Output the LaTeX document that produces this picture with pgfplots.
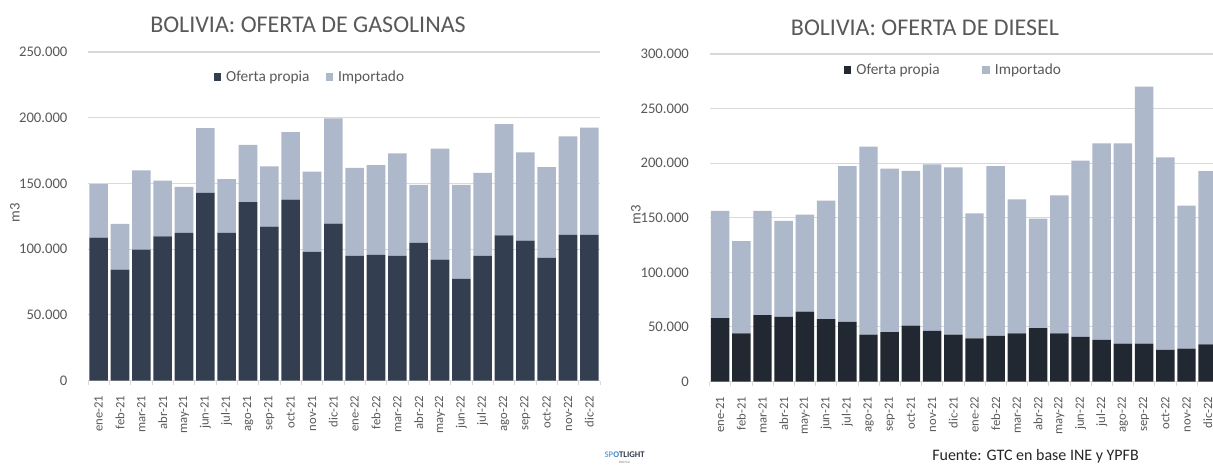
\documentclass[border=0pt]{standalone}
\usepackage{pgfplots}
\pgfplotsset{compat=1.18}
\usepackage{pgfplotstable}
\usepackage{fontspec}
\setmainfont{Carlito}
\definecolor{darkA}{HTML}{333F50}
\definecolor{darkB}{HTML}{222831}
\definecolor{lightbar}{HTML}{ADB8CA}
\definecolor{txt}{HTML}{595959}
\definecolor{gridc}{HTML}{D9D9D9}

\pgfplotstableread{
idx propia importado
0 108800 40700
1 84300 34900
2 99600 60400
3 109700 42500
4 112300 35100
5 142700 49300
6 112300 40900
7 135800 43600
8 117200 45700
9 137700 51300
10 97800 61200
11 119400 80100
12 94800 67100
13 95700 68300
14 94800 78000
15 104700 44100
16 92000 84400
17 77300 71500
18 94800 63300
19 110500 84700
20 106400 67200
21 93400 69000
22 110800 75000
23 110800 81700
}\gasolina

\pgfplotstableread{
idx propia importado
0 58000 98200
1 44200 84300
2 60700 95500
3 59200 87900
4 64100 88800
5 57100 108600
6 54600 142800
7 43000 172100
8 45200 149800
9 51300 141600
10 46400 152600
11 43000 153200
12 39400 114700
13 41800 155600
14 44200 122700
15 48800 100400
16 44200 126400
17 40900 161400
18 38100 180100
19 34800 183400
20 34800 235300
21 29000 176400
22 30200 130900
23 33900 158700
}\diesel

\pgfplotsset{
  mybars/.style={
    scale only axis,
    ybar stacked,
    bar width=0.87,
    xmin=-0.5, xmax=23.5, ymin=0,
    axis lines*=left,
    y axis line style={draw=none},
    x axis line style={draw=gridc, line width=0.8pt},
    ymajorgrids,
    major grid style={draw=gridc, line width=0.8pt},
    ytick style={draw=none},
    major x tick style={draw=none},
    minor x tick style={draw=gridc, line width=0.6pt},
    minor xtick={-0.5,0.5,...,23.5},
    minor tick length=3pt,
    tick align=outside,
    xtick={0,...,23},
    xticklabels={ene-21,feb-21,mar-21,abr-21,may-21,jun-21,jul-21,ago-21,sep-21,oct-21,nov-21,dic-21,ene-22,feb-22,mar-22,abr-22,may-22,jun-22,jul-22,ago-22,sep-22,oct-22,nov-22,dic-22},
    x tick label style={yshift=-7pt, rotate=90, anchor=east, inner sep=0pt, font=\fontsize{9.5}{10}\selectfont, text=txt},
    scaled y ticks=false,
    y tick label style={xshift=-11pt, inner sep=0pt, font=\fontsize{11}{12}\selectfont, text=txt,
      /pgf/number format/.cd, fixed, 1000 sep={.}, assume math mode=true},
    every axis y label/.style={rotate=90, anchor=center, font=\fontsize{11}{12}\selectfont, text=txt},
    ylabel={m3},
    legend style={draw=none, fill=none, legend columns=-1, font=\fontsize{11.5}{12}\selectfont, text=txt, anchor=center,
      /tikz/every odd column/.append style={column sep=2pt}},
  },
  sq/.style={legend image code/.code={\fill[##1] (0pt,-2.7pt) rectangle (5.4pt,2.7pt);}},
}

\begin{document}
\begin{tikzpicture}
\path[use as bounding box, fill=white] (0pt,0pt) rectangle (909.75pt,348.75pt);

% left chart
\begin{axis}[mybars,
  at={(66pt,63.375pt)}, anchor=south west,
  width=384pt, height=246.375pt,
  ymax=250000, ytick={0,50000,100000,150000,200000,250000},
  every axis y label/.append style={at={(axis description cs:-0.1426,0.51)}},
  legend style={at={(axis description cs:0.434,0.924)},
    /tikz/every even column/.append style={column sep=10pt}},
]
\addplot[fill=darkA, draw=none, sq] table[x=idx, y=propia]{\gasolina};
\addlegendentry{Oferta propia}
\addplot[fill=lightbar, draw=none, sq] table[x=idx, y=importado]{\gasolina};
\addlegendentry{Importado}
\end{axis}

% right chart
\begin{scope}
\clip (0pt,0pt) rectangle (909.75pt,348.75pt);
\begin{axis}[mybars,
  at={(532.125pt,62.625pt)}, anchor=south west,
  width=381.6pt, height=245.625pt,
  ymax=300000, ytick={0,50000,100000,150000,200000,250000,300000},
  every axis y label/.append style={at={(axis description cs:-0.1445,0.51)}},
  legend style={at={(axis description cs:0.48,0.951)},
    /tikz/every even column/.append style={column sep=30pt}},
]
\addplot[fill=darkB, draw=none, sq] table[x=idx, y=propia]{\diesel};
\addlegendentry{Oferta propia}
\addplot[fill=lightbar, draw=none, sq] table[x=idx, y=importado]{\diesel};
\addlegendentry{Importado}
\end{axis}
\end{scope}

% titles
\node[text=txt, font=\fontsize{18}{19}\selectfont] at (231pt,330pt) {BOLIVIA: OFERTA DE GASOLINAS};
\node[text=txt, font=\fontsize{18}{19}\selectfont] at (693.75pt,327.75pt) {BOLIVIA: OFERTA DE DIESEL};

% logo and source
\node[anchor=center, inner sep=0pt, font=\bfseries\fontsize{6.5}{7}\selectfont] at (468.5pt,7.5pt)
  {\textcolor[HTML]{6FA8DC}{SP}\textcolor[HTML]{3D85C6}{O}\textcolor[HTML]{2F3B4C}{TLIGHT}};
\node[anchor=center, inner sep=0pt, font=\fontsize{2.5}{3}\selectfont, text=gray] at (468.5pt,2.2pt) {BOLIVIA};
\node[anchor=base west, inner sep=0pt, text=black!85, font=\fontsize{12}{13}\selectfont] at (699pt,3.6pt)
  {Fuente: GTC en base INE y YPFB};
\end{tikzpicture}
\end{document}
